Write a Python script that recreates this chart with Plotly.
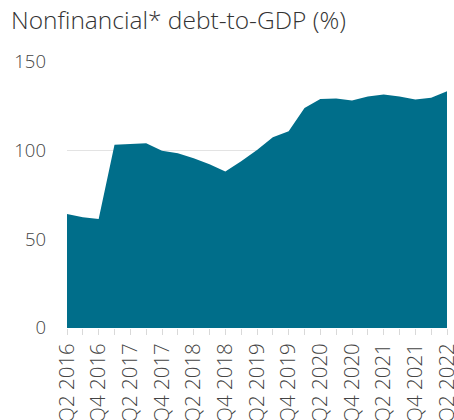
import plotly.graph_objects as go

quarters = ["Q2 2016", "Q3 2016", "Q4 2016", "Q1 2017", "Q2 2017", "Q3 2017", "Q4 2017",
            "Q1 2018", "Q2 2018", "Q3 2018", "Q4 2018", "Q1 2019", "Q2 2019", "Q3 2019",
            "Q4 2019", "Q1 2020", "Q2 2020", "Q3 2020", "Q4 2020", "Q1 2021", "Q2 2021",
            "Q3 2021", "Q4 2021", "Q1 2022", "Q2 2022"]
debt_to_gdp = [64.3, 62.5, 61.5, 103.4, 103.7, 104.2, 100.0, 98.5, 95.7, 92.3, 88.3,
               94.0, 100.4, 107.5, 111.0, 124.0, 129.2, 129.4, 128.3, 130.6, 131.7,
               130.6, 128.9, 129.9, 133.5]
y_ticks = [0, 50, 100, 150]

x_idx = list(range(len(quarters)))
tick_text = [q if i % 2 == 0 else "" for i, q in enumerate(quarters)]

FONT = "Open Sans, DejaVu Sans, sans-serif"

fig = go.Figure()
fig.add_trace(go.Scatter(
    x=x_idx, y=debt_to_gdp, mode="lines", fill="tozeroy",
    line=dict(color="#006e8a", width=0), fillcolor="#006e8a",
    hoverinfo="skip", showlegend=False,
))

fig.update_layout(
    width=454, height=420,
    margin=dict(l=67, r=7, t=62, b=92),
    paper_bgcolor="white", plot_bgcolor="white",
    font=dict(family=FONT, color="#444444", weight=300),
    annotations=[dict(
        text="Nonfinancial* debt-to-GDP (%)", xref="paper", yref="paper",
        x=(9 - 67) / 380, y=1 + (62 - 20) / 266, xanchor="left", yanchor="middle",
        showarrow=False, font=dict(size=24.5, color="#333333", family=FONT, weight=300),
    )],
)
fig.update_xaxes(
    range=[0, len(quarters) - 1], tickmode="array", tickvals=x_idx, ticktext=tick_text,
    tickangle=-90, ticks="outside", ticklen=6, tickcolor="#d9d9d9", tickwidth=1,
    showgrid=False, zeroline=False, showline=False, automargin=False,
    ticklabeloverflow="allow",
    tickfont=dict(size=20.5, color="#444444", family=FONT, weight=300),
)
fig.update_yaxes(
    range=[0, 150], tickvals=y_ticks, showgrid=True, gridcolor="#e3e3e3", gridwidth=1,
    zeroline=False, showline=False, ticks="", ticklabelstandoff=20, automargin=False,
    tickfont=dict(size=18.5, color="#444444", family=FONT, weight=300),
)

fig.write_html("out.html", config={"displayModeBar": False},
               post_script="document.body.style.margin='0';")
